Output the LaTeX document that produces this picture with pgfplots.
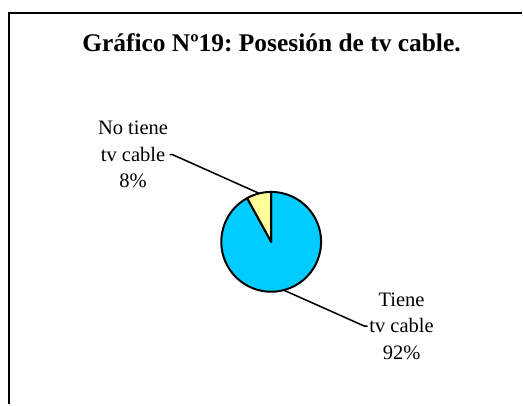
\documentclass[border=0pt]{standalone}
\usepackage{fontspec}
\setmainfont{Liberation Serif}
\usepackage{pgfplots}
\pgfplotsset{compat=1.18}
\frenchspacing

\definecolor{sliceblue}{HTML}{00CCFF}
\definecolor{sliceyellow}{HTML}{FFFF99}

% valores (%)
\def\vNo{8}
\def\vSi{92}

\begin{document}
\begin{tikzpicture}
\begin{axis}[
    hide axis, scale only axis,
    width=392.25pt, height=303.75pt,
    xmin=0, xmax=523, ymin=0, ymax=405,
    clip=false,
]
% area fija
\path[draw=none] (axis cs:0,0) rectangle (axis cs:523,405);

% marco
\addplot[black, line width=1.5pt] coordinates {(9.3,0)(9.3,392.3)(523,392.3)};

\node[font=\fontsize{19.1}{22}\selectfont\bfseries] at (axis cs:272,361.7)
    {Gráfico Nº19: Posesión de tv cable.};

% torta
\pgfmathsetmacro{\aNo}{90+3.6*\vNo}
\pgfmathsetmacro{\aSi}{\aNo+3.6*\vSi}
\filldraw[fill=sliceblue, draw=black, line width=1.5pt, line join=round]
    (axis cs:271.7,162.7) -- ++(\aNo:37.5pt) arc[start angle=\aNo, end angle=\aSi, radius=37.5pt] -- cycle;
\filldraw[fill=sliceyellow, draw=black, line width=1.5pt, line join=round]
    (axis cs:271.7,162.7) -- ++(90:37.5pt) arc[start angle=90, end angle=\aNo, radius=37.5pt] -- cycle;

% lineas guia
\addplot[black, line width=1.15pt] coordinates {(170,250)(173,250)(259.3,211.4)};
\addplot[black, line width=1.15pt] coordinates {(284.3,114.3)(365,78.3)(368.3,78.3)};

\node[align=center, font=\fontsize{15.4}{20}\selectfont] at (axis cs:133.3,250)
    {No tiene\\tv cable\\8\%};
\node[align=center, font=\fontsize{15.4}{20}\selectfont] at (axis cs:402.3,78.3)
    {Tiene\\tv cable\\92\%};
\end{axis}
\end{tikzpicture}
\end{document}
